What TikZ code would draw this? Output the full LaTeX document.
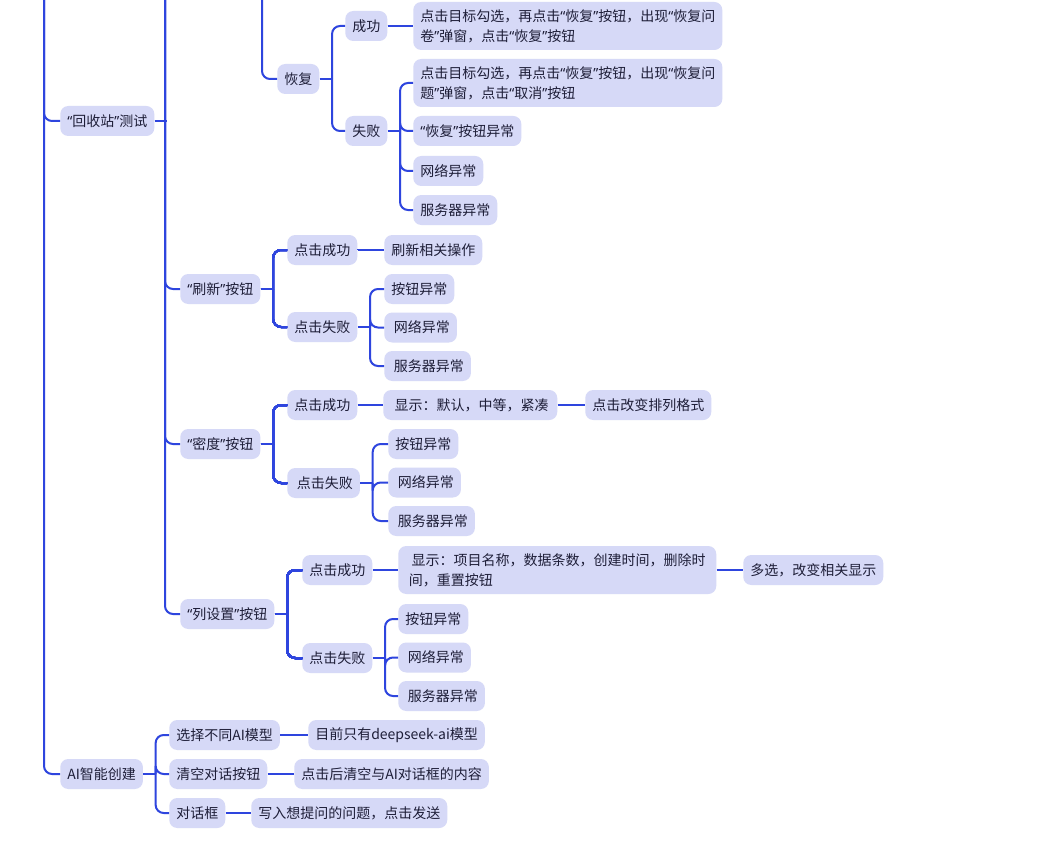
\documentclass[tikz,border=0pt]{standalone}
\usepackage{fontspec}
\setmainfont{Noto Sans CJK SC}
\newfontfamily\quotefont{Noto Sans}
\usetikzlibrary{calc}
\definecolor{mapline}{RGB}{46,69,222}
\definecolor{mapfill}{RGB}{214,217,247}
\definecolor{maptext}{RGB}{30,30,56}
\newcommand{\q}[1]{{\quotefont“}#1{\quotefont”}}
% stub from a parent, then one elbow to each child
\newcommand{\mapstub}[1]{\draw[maplink] (#1.east) -- ++(12.5,0);}
\newcommand{\mapbranch}[2]{\draw[maplink] ($(#1.east)+(12.5,0)$) |- (#2.west);}
\newcommand{\failtrio}[4]{%
  \node[topic] (#1B) at (#2,#3) {按钮异常};%
  \node[topic] (#1N) at (#2,#3+38.5) {#4网络异常};%
  \node[topic] (#1S) at (#2,#3+77) {#4服务器异常};%
}
\newcommand{\failtriolinks}[1]{%
  \mapstub{#1}%
  \mapbranch{#1}{#1B}\mapbranch{#1}{#1N}\mapbranch{#1}{#1S}%
}
\begin{document}
\begin{tikzpicture}[x=0.75pt,y=-0.75pt,
  topic/.style={fill=mapfill,rounded corners=6pt,inner xsep=5.25pt,inner ysep=0pt,
    minimum height=22.5pt,text=maptext,font=\fontsize{10.5}{15}\selectfont,anchor=west},
  topictwo/.style={topic,align=left,minimum height=36pt},
  maplink/.style={draw=mapline,line width=1.5pt,rounded corners=6pt}]
  \useasboundingbox (0,0) rectangle (1058,842);
  \fill[white] (0,0) rectangle (1058,842);
  \clip (0,0) rectangle (1058,842);
  \coordinate (upA) at (44,-20);
  \coordinate (upB) at (165,-20);
  \coordinate (upC) at (262,-20);

  % 回收站
  \node[topic] (bin) at (60,121) {\q{回收站}测试};
  \node[topic] (restore) at (277,79) {恢复};
  \node[topic] (rsucc) at (345,26) {成功};
  \node[topic] (rfail) at (345,131) {失败};
  \node[topictwo] (rsuccT) at (413,26) {点击目标勾选，再点击\q{恢复}按钮，出现\q{恢复问\\卷}弹窗，点击\q{恢复}按钮};
  \node[topictwo] (rfailT) at (413,83) {点击目标勾选，再点击\q{恢复}按钮，出现\q{恢复问\\题}弹窗，点击\q{取消}按钮};
  \node[topic] (rfailB) at (413,131) {\q{恢复}按钮异常};
  \node[topic] (rfailN) at (413,171) {网络异常};
  \node[topic] (rfailS) at (413,210) {服务器异常};

  % 刷新
  \node[topic] (refresh) at (180,289) {\q{刷新}按钮};
  \node[topic] (fsucc) at (287,250) {点击成功};
  \node[topic] (ffail) at (287,327) {点击失败};
  \node[topic] (fsuccT) at (384,250) {刷新相关操作};
  \failtrio{ffail}{384}{289}{\hspace*{2pt}}

  % 密度
  \node[topic] (density) at (180,444) {\q{密度}按钮};
  \node[topic] (dsucc) at (287,405) {点击成功};
  \node[topic] (dfail) at (287,483) {\hspace*{2pt}点击失败};
  \node[topic,minimum width=130.5pt] (dsuccT) at (383,405) {\hspace*{2pt}显示：默认，中等，紧凑};
  \node[topic] (dsuccR) at (585,405) {点击改变排列格式};
  \failtrio{dfail}{388}{444}{\hspace*{2pt}}

  % 列设置
  \node[topic] (columns) at (180,614) {\q{列设置}按钮};
  \node[topic] (csucc) at (302,570) {点击成功};
  \node[topic] (cfail) at (302,658) {点击失败};
  \node[topictwo,minimum width=238.5pt] (csuccT) at (398,570) {\hspace*{2pt}显示：项目名称，数据条数，创建时间，删除时\\间，重置按钮};
  \node[topic] (csuccR) at (743,570) {多选，改变相关显示};
  \failtrio{cfail}{398}{619}{\hspace*{2pt}}

  % AI
  \node[topic] (ai) at (60,774) {AI智能创建};
  \node[topic] (amodel) at (169,735) {选择不同AI模型};
  \node[topic] (aclear) at (169,774) {清空对话按钮};
  \node[topic] (abox) at (169,813) {对话框};
  \node[topic] (amodelT) at (308,735) {目前只有deepseek-ai模型};
  \node[topic] (aclearT) at (294,774) {点击后清空与AI对话框的内容};
  \node[topic] (aboxT) at (251,813) {写入想提问的问题，点击发送};

  % links
  \draw[maplink] (upA) |- (bin.west);
  \draw[maplink] (upA) |- (ai.west);
  \mapstub{bin}
  \foreach \c in {refresh,density,columns} \draw[maplink] (upB) |- (\c.west);
  \draw[maplink] (upC) |- (restore.west);
  \mapstub{restore}
  \foreach \c in {rsucc,rfail} \mapbranch{restore}{\c}
  \draw[maplink] (rsucc.east) -- (rsuccT.west);
  \mapstub{rfail}
  \foreach \c in {rfailT,rfailB,rfailN,rfailS} \mapbranch{rfail}{\c}
  \foreach \p in {refresh,density,columns} \mapstub{\p}
  \foreach \c in {fsucc,ffail} \mapbranch{refresh}{\c}
  \foreach \c in {dsucc,dfail} \mapbranch{density}{\c}
  \foreach \c in {csucc,cfail} \mapbranch{columns}{\c}
  \draw[maplink] (fsucc.east) -- (fsuccT.west);
  \draw[maplink] (dsucc.east) -- (dsuccT.west);
  \draw[maplink] (dsuccT.east) -- (dsuccR.west);
  \draw[maplink] (csucc.east) -- (csuccT.west);
  \draw[maplink] (csuccT.east) -- (csuccR.west);
  \failtriolinks{ffail}
  \failtriolinks{dfail}
  \failtriolinks{cfail}
  \mapstub{ai}
  \foreach \c in {amodel,aclear,abox} \mapbranch{ai}{\c}
  \draw[maplink] (amodel.east) -- (amodelT.west);
  \draw[maplink] (aclear.east) -- (aclearT.west);
  \draw[maplink] (abox.east) -- (aboxT.west);
\end{tikzpicture}
\end{document}
